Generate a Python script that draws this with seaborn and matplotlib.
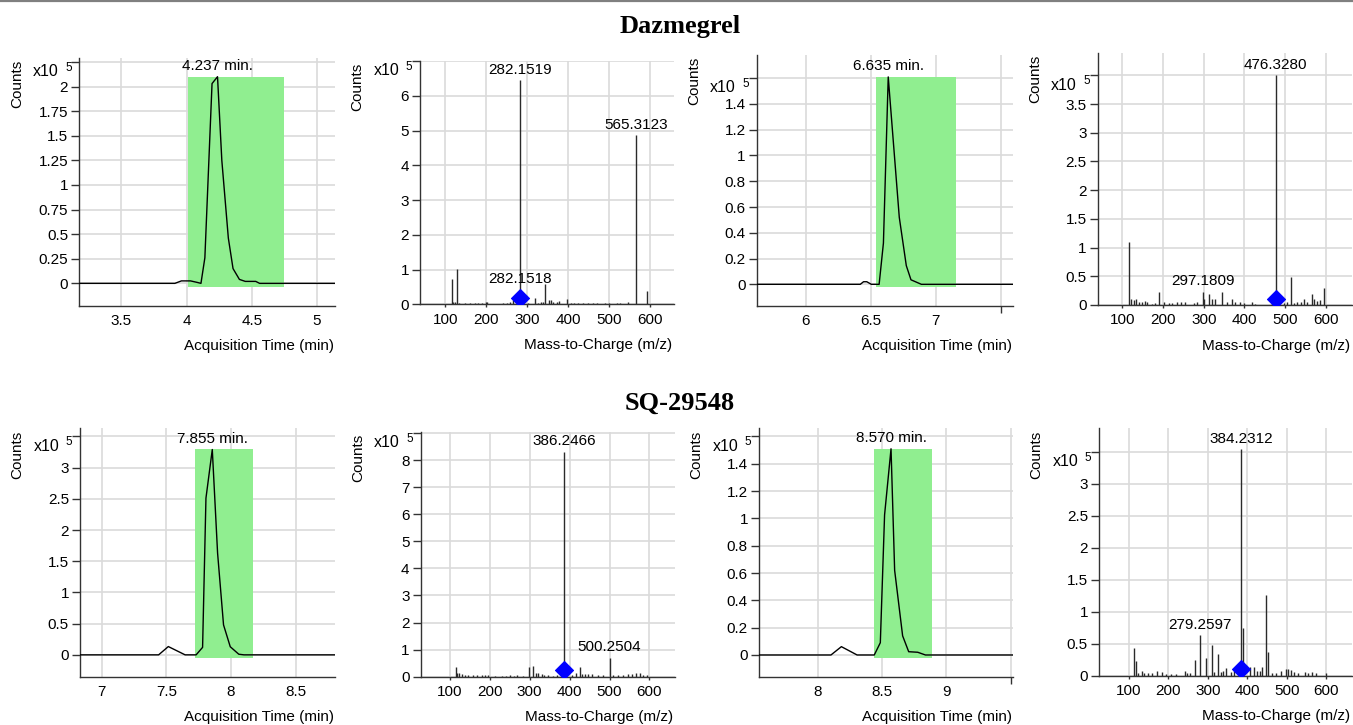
import matplotlib
matplotlib.use("Agg")
import matplotlib.pyplot as plt
import seaborn as sns
from matplotlib.lines import Line2D

W, H = 1353, 725

# ---------------- data, counts in units of 10^5 ----------------
# Dazmegrel - chromatogram 1
dz_eic1_time = [3.18, 3.91, 3.96, 4.03, 4.08, 4.11, 4.14, 4.195, 4.237, 4.27, 4.32,
                4.356, 4.405, 4.45, 4.53, 4.56, 5.14]
dz_eic1_counts = [0, 0, 0.025, 0.025, 0.01, 0, 0.26, 2.03, 2.10, 1.25, 0.46,
                  0.15, 0.04, 0.02, 0.02, 0, 0]
dz_eic1_window_time = [4.01, 4.75]
dz_eic1_window_counts = [-0.035, 2.10]
dz_eic1_rt = 4.237
dz_eic1_xticks = [3.5, 4, 4.5, 5]
dz_eic1_xlabels = ["3.5", "4", "4.5", "5"]
dz_eic1_yticks = [0, 0.25, 0.5, 0.75, 1, 1.25, 1.5, 1.75, 2]
dz_eic1_ytop = 2.25

# Dazmegrel - spectrum 1
dz_ms1_mz = [115.5, 119.6, 122.9, 129.4, 134, 148, 160, 172.5, 180.6, 188.8, 198.6, 202.7,
             210.8, 241.7, 251.5, 258, 264.6, 282.15, 302.8, 319, 327, 333, 339.4, 343.7,
             352.5, 357.4, 362.3, 372, 378.5, 396.5, 406, 414, 425, 437, 449, 461.5, 470,
             490, 500.6, 518.6, 526.7, 547, 559, 565.31, 594]
dz_ms1_int = [0.72, 0.08, 0.08, 1.01, 0.05, 0.05, 0.04, 0.04, 0.04, 0.03, 0.07, 0.06,
              0.02, 0.05, 0.04, 0.08, 0.12, 6.45, 0.04, 0.18, 0.05, 0.06, 0.06, 0.57,
              0.12, 0.12, 0.08, 0.08, 0.1, 0.14, 0.04, 0.05, 0.04, 0.03, 0.03, 0.05, 0.04,
              0.05, 0.04, 0.03, 0.03, 0.06, 0.02, 4.87, 0.38]
dz_ms1_labels = ["282.1519", "565.3123"]
dz_ms1_label_mz = [282.15, 565.31]
dz_ms1_label_int = [6.45, 4.87]
dz_ms1_prec = [282.15, 0.17, "282.1518"]
dz_ms1_yticks = [0, 1, 2, 3, 4, 5, 6]
dz_ms1_ytop = 7

# Dazmegrel - chromatogram 2
dz_eic2_time = [5.62, 6.42, 6.445, 6.47, 6.505, 6.565, 6.598, 6.635, 6.72, 6.774, 6.81, 6.89, 7.60]
dz_eic2_counts = [0, 0, 0.02, 0.02, 0, 0, 0.32, 1.61, 0.52, 0.145, 0.035, 0, 0]
dz_eic2_window_time = [6.54, 7.156]
dz_eic2_window_counts = [-0.019, 1.61]
dz_eic2_rt = 6.635
dz_eic2_xticks = [6, 6.5, 7, 7.5]
dz_eic2_xlabels = ["6", "6.5", "7", ""]
dz_eic2_yticks = [0, 0.2, 0.4, 0.6, 0.8, 1, 1.2, 1.4]
dz_eic2_ytop = 1.6

# Dazmegrel - spectrum 2
dz_ms2_mz = [117.2, 121.4, 127.9, 134.4, 140, 148.4, 156.5, 160.6, 173, 181, 190.8, 201.6,
             214, 222, 234, 244, 254.7, 275, 283.4, 297.18, 300, 312, 320, 328, 344.7, 357,
             369.4, 377.5, 388, 398, 418.4, 426.6, 467, 476.33, 496, 504, 515, 520.7, 529,
             538.7, 545.3, 553.5, 565.7, 571.5, 578, 584.6, 594.4]
dz_ms2_int = [1.1, 0.1, 0.08, 0.1, 0.05, 0.06, 0.07, 0.05, 0.02, 0.03, 0.22, 0.06,
              0.04, 0.03, 0.06, 0.05, 0.05, 0.03, 0.05, 0.23, 0.1, 0.2, 0.1, 0.1, 0.22, 0.05,
              0.1, 0.05, 0.06, 0.03, 0.06, 0.02, 0.03, 4.0, 0.03, 0.05, 0.49, 0.04, 0.05,
              0.06, 0.1, 0.06, 0.2, 0.1, 0.07, 0.08, 0.3]
dz_ms2_labels = ["476.3280", "297.1809"]
dz_ms2_label_mz = [476.33, 297.18]
dz_ms2_label_int = [4.0, 0.23]
dz_ms2_prec = [476.33, 0.11, None]
dz_ms2_yticks = [0, 0.5, 1, 1.5, 2, 2.5, 3, 3.5]
dz_ms2_ytop = 4

# SQ-29548 - chromatogram 1
sq_eic1_time = [6.83, 7.44, 7.515, 7.645, 7.73, 7.78, 7.806, 7.855, 7.896, 7.942, 7.994,
                8.06, 8.10, 8.81]
sq_eic1_counts = [0, 0, 0.133, 0, 0, 0.12, 2.51, 3.29, 1.63, 0.48, 0.13, 0.01, 0, 0]
sq_eic1_window_time = [7.724, 8.17]
sq_eic1_window_counts = [-0.043, 3.30]
sq_eic1_rt = 7.855
sq_eic1_xticks = [7, 7.5, 8, 8.5]
sq_eic1_xlabels = ["7", "7.5", "8", "8.5"]
sq_eic1_yticks = [0, 0.5, 1, 1.5, 2, 2.5, 3]
sq_eic1_ytop = 3.5

# SQ-29548 - spectrum 1
sq_ms1_mz = [115, 119, 123.4, 129.3, 137.6, 146, 158.5, 168.6, 179.4, 187.8, 196, 212.9,
             229.6, 240.5, 250.5, 260.5, 267, 284, 299, 309, 315.7, 321.5, 330, 335.8, 346.6,
             359, 367.6, 386.25, 405, 416, 426, 431.8, 438.6, 447, 455, 472, 484.6, 500.25,
             509.7, 522, 534.8, 547, 555.7, 566.5, 576.5, 585, 593]
sq_ms1_int = [0.37, 0.15, 0.12, 0.1, 0.08, 0.06, 0.07, 0.06, 0.06, 0.07, 0.06, 0.03,
              0.04, 0.04, 0.05, 0.04, 0.05, 0.04, 0.35, 0.38, 0.15, 0.12, 0.1, 0.08, 0.06,
              0.04, 0.05, 8.31, 0.06, 0.12, 0.34, 0.1, 0.1, 0.1, 0.1, 0.06, 0.08, 0.70,
              0.08, 0.05, 0.07, 0.1, 0.1, 0.14, 0.15, 0.08, 0.06]
sq_ms1_labels = ["386.2466", "500.2504"]
sq_ms1_label_mz = [386.25, 500.25]
sq_ms1_label_int = [8.31, 0.70]
sq_ms1_prec = [386.25, 0.24, None]
sq_ms1_yticks = [0, 1, 2, 3, 4, 5, 6, 7, 8]
sq_ms1_ytop = 9

# SQ-29548 - chromatogram 2
sq_eic2_time = [7.54, 8.104, 8.185, 8.307, 8.44, 8.487, 8.52, 8.57, 8.598, 8.66, 8.707,
                8.777, 8.837, 9.52]
sq_eic2_counts = [0, 0, 0.061, 0, 0, 0.09, 1.026, 1.51, 0.62, 0.14, 0.024, 0.02, 0, 0]
sq_eic2_window_time = [8.44, 8.89]
sq_eic2_window_counts = [-0.024, 1.51]
sq_eic2_rt = 8.570
sq_eic2_xticks = [8, 8.5, 9, 9.5]
sq_eic2_xlabels = ["8", "8.5", "9", ""]
sq_eic2_yticks = [0, 0.2, 0.4, 0.6, 0.8, 1, 1.2, 1.4]
sq_eic2_ytop = 1.6

# SQ-29548 - spectrum 2
sq_ms2_mz = [112.7, 117, 123.7, 132, 138, 149, 157.6, 172, 184.6, 193, 205.8, 218.5, 242,
             248, 254, 266.7, 279.26, 296, 309.8, 315.7, 325, 332.7, 338.6, 345.4, 358,
             366.5, 384.23, 389.3, 406, 417, 425.6, 431.7, 438.4, 447, 452.8, 463.7, 472.3,
             485, 497.7, 504.3, 510.4, 518.8, 529.7, 546.7, 555, 565, 574, 599]
sq_ms2_int = [0.43, 0.23, 0.05, 0.08, 0.05, 0.05, 0.05, 0.07, 0.06, 0.03, 0.02, 0.02, 0.08,
              0.05, 0.05, 0.25, 0.63, 0.27, 0.48, 0.06, 0.34, 0.06, 0.08, 0.12, 0.06,
              0.12, 3.54, 0.74, 0.14, 0.14, 0.08, 0.08, 0.13, 1.27, 0.37, 0.04, 0.05,
              0.08, 0.1, 0.1, 0.09, 0.06, 0.04, 0.06, 0.05, 0.06, 0.05, 0.05]
sq_ms2_labels = ["384.2312", "279.2597"]
sq_ms2_label_mz = [384.23, 279.26]
sq_ms2_label_int = [3.54, 0.63]
sq_ms2_prec = [384.23, 0.10, None]
sq_ms2_yticks = [0, 0.5, 1, 1.5, 2, 2.5, 3]
sq_ms2_ytop = 3.5

ms_xticks = [100, 200, 300, 400, 500, 600]
ms_xlabels = ["100", "200", "300", "400", "500", "600"]

# ---------------- style ----------------
sns.set_theme(style="whitegrid", rc={
    "grid.color": "#dadada", "grid.linewidth": 1.2,
    "text.color": "black", "xtick.color": "black", "ytick.color": "black",
})
plt.rcParams["font.family"] = ["Liberation Sans", "DejaVu Sans"]

fig = plt.figure(figsize=(W / 100, H / 100), dpi=100)
fig.add_artist(Line2D([0, 1], [1 - 1.2 / H] * 2, transform=fig.transFigure,
                      color="#808080", lw=1.6))
fig.text(680 / W, 1 - 33.3 / H, "Dazmegrel", ha="center", va="baseline",
         fontsize=19, fontweight="bold", family="Liberation Serif")
fig.text(680 / W, 1 - 409.3 / H, "SQ-29548", ha="center", va="baseline",
         fontsize=19, fontweight="bold", family="Liberation Serif")


def base_axes(rect, xlim, ylim, xticks, xlabels, yticks, ytop, xlabel, xtick_len=0):
    l, t, r, b = rect
    ax = fig.add_axes([l / W, 1 - b / H, (r - l) / W, (b - t) / H])
    ax.set_xlim(xlim)
    ax.set_ylim(ylim)
    ax.set_xticks(xticks)
    ax.set_xticklabels(xlabels)
    ax.set_yticks(list(yticks) + [ytop])
    ax.set_yticklabels([f"{v:g}" for v in yticks] + [""])
    ax.set_axisbelow(True)
    ax.grid(True)
    for s in ["top", "right"]:
        ax.spines[s].set_visible(False)
    for s in ["left", "bottom"]:
        ax.spines[s].set_color("#333333")
        ax.spines[s].set_linewidth(1.0)
    ax.tick_params(axis="x", bottom=xtick_len > 0, length=xtick_len, width=1,
                   color="#333333", pad=6 - xtick_len, labelsize=11)
    ax.tick_params(axis="y", left=True, length=5.5, width=1, pad=2.5,
                   labelsize=11, color="#333333")
    # unlabeled last tick gets a short tick mark
    if xlabels[-1] == "":
        ax.xaxis.remove_overlapping_locs = False
        ax.set_xticks([xticks[-1]], minor=True)
        ax.tick_params(axis="x", which="minor", bottom=True, length=5, width=1,
                       color="#333333")
    ax.annotate("Counts", xy=(0, 1), xycoords="axes fraction", xytext=(-45, -1.5),
                textcoords="offset points", rotation=90, ha="center", va="top", fontsize=11)
    ax.annotate("x10", xy=(0, ytop), xycoords=("axes fraction", "data"), xytext=(-15, -7),
                textcoords="offset points", ha="right", va="center", fontsize=11.5)
    ax.annotate("5", xy=(0, ytop), xycoords=("axes fraction", "data"), xytext=(-5.5, -4.2),
                textcoords="offset points", ha="right", va="center", fontsize=8.5)
    ax.annotate(xlabel, xy=(1, 0), xycoords="axes fraction", xytext=(-1, -29.3),
                textcoords="offset points", ha="right", va="center", fontsize=11)
    return ax


def eic_panel(rect, xlim, ylim, time, counts, win_t, win_c, rt, xticks, xlabels, yticks, ytop):
    ax = base_axes(rect, xlim, ylim, xticks, xlabels, yticks, ytop, "Acquisition Time (min)")
    ax.fill_between(win_t, win_c[0], win_c[1], color="#90ee90", lw=0, zorder=1)
    sns.lineplot(x=time, y=counts, ax=ax, color="black", lw=1.0, zorder=3)
    ax.annotate(f"{rt:.3f} min.", xy=(rt, max(counts)), xytext=(0, 2.5),
                textcoords="offset points", ha="center", va="bottom", fontsize=11)
    ax.set_xlabel("")
    ax.set_ylabel("")


def ms_panel(rect, xlim, ylim, mz, inten, labels, lab_mz, lab_int, prec, yticks, ytop):
    ax = base_axes(rect, xlim, ylim, ms_xticks, ms_xlabels, yticks, ytop,
                   "Mass-to-Charge (m/z)", xtick_len=2.5)
    ax.vlines(mz, 0, inten, color="#2a2a2a", lw=1.0, zorder=3)
    for txt, x, y in zip(labels, lab_mz, lab_int):
        ax.annotate(txt, xy=(x, y), xytext=(0, 2.5), textcoords="offset points",
                    ha="center", va="bottom", fontsize=11)
    sns.scatterplot(x=[prec[0]], y=[prec[1]], ax=ax, marker="D", s=85, color="#0000ff",
                    edgecolor="#0000ff", zorder=5)
    if prec[2]:
        ax.annotate(prec[2], xy=(prec[0], prec[1]), xytext=(0, 9), textcoords="offset points",
                    ha="center", va="bottom", fontsize=11)
    ax.set_xlabel("")
    ax.set_ylabel("")


eic_panel((79.3, 58, 335, 305.7), (3.177, 5.138), (-0.227, 2.29),
          dz_eic1_time, dz_eic1_counts, dz_eic1_window_time, dz_eic1_window_counts, dz_eic1_rt,
          dz_eic1_xticks, dz_eic1_xlabels, dz_eic1_yticks, dz_eic1_ytop)
ms_panel((420, 61, 674, 304.3), (38, 659), (0, 7.0),
         dz_ms1_mz, dz_ms1_int, dz_ms1_labels, dz_ms1_label_mz, dz_ms1_label_int, dz_ms1_prec,
         dz_ms1_yticks, dz_ms1_ytop)
eic_panel((756.7, 55, 1013, 305.7), (5.623, 7.595), (-0.166, 1.78),
          dz_eic2_time, dz_eic2_counts, dz_eic2_window_time, dz_eic2_window_counts, dz_eic2_rt,
          dz_eic2_xticks, dz_eic2_xlabels, dz_eic2_yticks, dz_eic2_ytop)
ms_panel((1097.7, 53, 1352, 305), (39.6, 664), (0, 4.39),
         dz_ms2_mz, dz_ms2_int, dz_ms2_labels, dz_ms2_label_mz, dz_ms2_label_int, dz_ms2_prec,
         dz_ms2_yticks, dz_ms2_ytop)

eic_panel((80, 428.3, 335, 676.7), (6.832, 8.804), (-0.35, 3.63),
          sq_eic1_time, sq_eic1_counts, sq_eic1_window_time, sq_eic1_window_counts, sq_eic1_rt,
          sq_eic1_xticks, sq_eic1_xlabels, sq_eic1_yticks, sq_eic1_ytop)
ms_panel((420.7, 431.7, 675, 676.7), (27, 664), (0, 9.05),
         sq_ms1_mz, sq_ms1_int, sq_ms1_labels, sq_ms1_label_mz, sq_ms1_label_int, sq_ms1_prec,
         sq_ms1_yticks, sq_ms1_ytop)
eic_panel((759, 428.3, 1013, 676.7), (7.546, 9.516), (-0.159, 1.66),
          sq_eic2_time, sq_eic2_counts, sq_eic2_window_time, sq_eic2_window_counts, sq_eic2_rt,
          sq_eic2_xticks, sq_eic2_xlabels, sq_eic2_yticks, sq_eic2_ytop)
ms_panel((1099, 428.3, 1351.7, 675.7), (24, 665), (0, 3.87),
         sq_ms2_mz, sq_ms2_int, sq_ms2_labels, sq_ms2_label_mz, sq_ms2_label_int, sq_ms2_prec,
         sq_ms2_yticks, sq_ms2_ytop)

fig.savefig("out.png", dpi=100)
